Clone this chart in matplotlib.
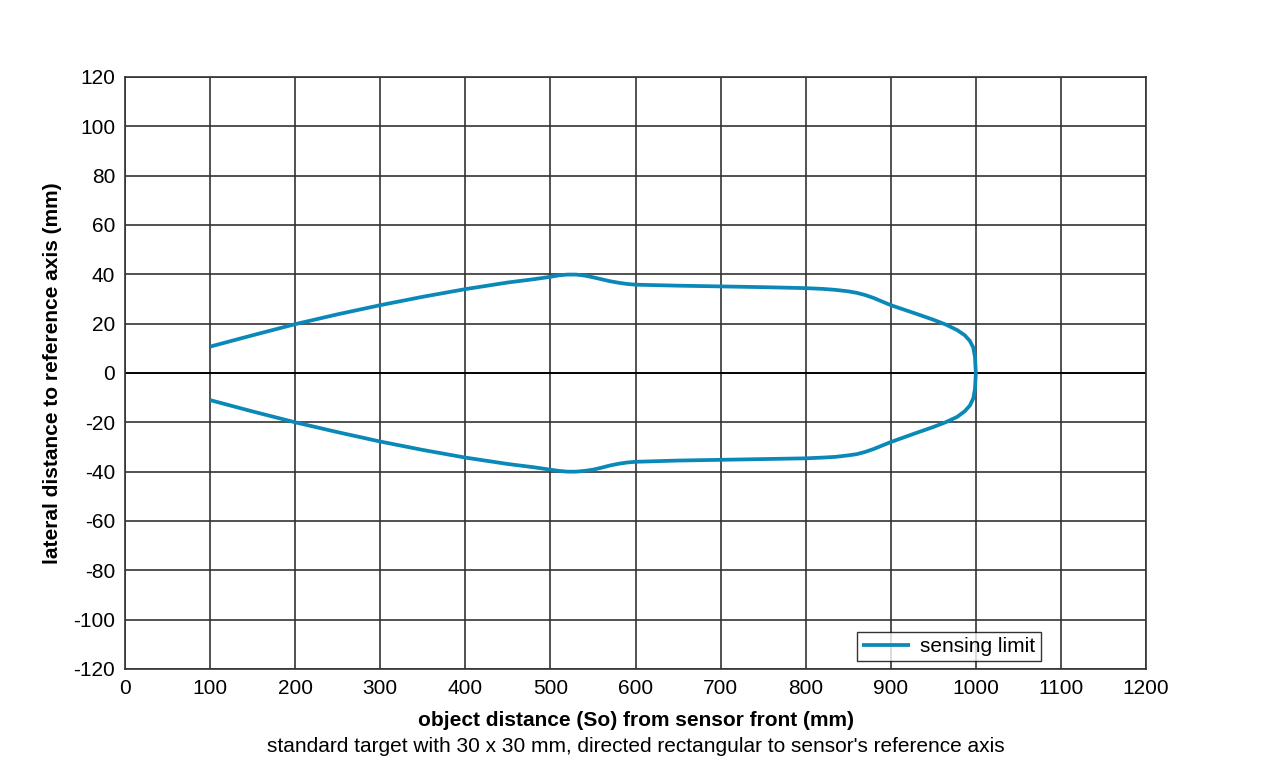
import numpy as np
import matplotlib.pyplot as plt

plt.rcParams['font.family'] = ['Liberation Sans', 'DejaVu Sans']
plt.rcParams['axes.unicode_minus'] = False

# sensing limit contour, upper branch (x in mm, y in mm)
upper_x = [100, 150, 200, 250, 300, 350, 400, 450, 480, 500, 510, 520, 530, 540, 550, 560,
           570, 580, 590, 600, 650, 700, 750, 800, 820, 835, 850, 860, 870, 880, 900,
           930, 950, 965, 978, 987, 993, 997, 999, 1000]
upper_y = [10.7, 15.3, 19.8, 23.8, 27.5, 30.9, 34.0, 36.7, 38.0, 39.0, 39.6, 39.9, 39.9, 39.5,
           38.8, 38.0, 37.2, 36.6, 36.1, 35.8, 35.4, 35.1, 34.8, 34.4, 34.1, 33.7, 33.1, 32.5,
           31.6, 30.4, 27.5, 24.0, 21.6, 19.6, 17.4, 15.3, 13.0, 10.3, 6.5, 0.0]
# lower branch, from x=1000 back to 100
lower_x = [1000, 999, 997, 993, 987, 978, 965, 950, 930, 900, 880, 870, 860, 850, 835, 820,
           800, 750, 700, 650, 600, 590, 580, 570, 560, 550, 540, 530, 520, 510, 500, 480,
           450, 400, 350, 300, 250, 200, 150, 100]
lower_y = [0.0, -6.5, -10.3, -13.2, -15.5, -17.8, -19.9, -21.9, -24.3, -28.0, -30.8, -32.0,
           -32.9, -33.4, -34.0, -34.3, -34.6, -34.9, -35.2, -35.5, -36.0, -36.3, -36.8, -37.5,
           -38.4, -39.2, -39.7, -40.0, -40.0, -39.7, -39.2, -38.2, -36.9, -34.3, -31.2, -27.8,
           -24.0, -20.0, -15.6, -11.0]

x_ticks = list(range(0, 1201, 100))
y_ticks = list(range(-120, 121, 20))

fig = plt.figure(figsize=(12.8, 7.7), dpi=100)
ax = fig.add_axes([0.0977, 0.1312, 0.7976, 0.7688])

ax.plot(upper_x + lower_x[1:], upper_y + lower_y[1:], color='#0a88b8', lw=2.7,
        label='sensing limit', solid_capstyle='butt', solid_joinstyle='round', zorder=3)

ax.set_xlim(0, 1200)
ax.set_ylim(-120, 120)
ax.set_xticks(x_ticks)
ax.set_yticks(y_ticks)
ax.grid(True, color='#333333', lw=1.2)
ax.axhline(0, color='black', lw=1.3, zorder=2)
ax.tick_params(length=0, labelsize=15, pad=7)
for s in ax.spines.values():
    s.set_color('#333333')
    s.set_linewidth(1.2)

ax.set_ylabel('lateral distance to reference axis (mm)', fontsize=15, fontweight='bold', labelpad=8)
fig.text(0.5 * (0.0977 + 0.8953), 1 - 720 / 770, 'object distance (So) from sensor front (mm)',
         ha='center', va='center', fontsize=15, fontweight='bold')
fig.text(0.5 * (0.0977 + 0.8953), 1 - 746 / 770,
         "standard target with 30 x 30 mm, directed rectangular to sensor's reference axis",
         ha='center', va='center', fontsize=15)

leg = ax.legend(loc='lower right', bbox_to_anchor=(0.897, 0.013), fontsize=15, frameon=True,
                fancybox=False, edgecolor='black', borderpad=0.25, handlelength=2.3,
                handletextpad=0.5, borderaxespad=0)
leg.get_frame().set_linewidth(1.0)

fig.savefig('out.png', dpi=100)
